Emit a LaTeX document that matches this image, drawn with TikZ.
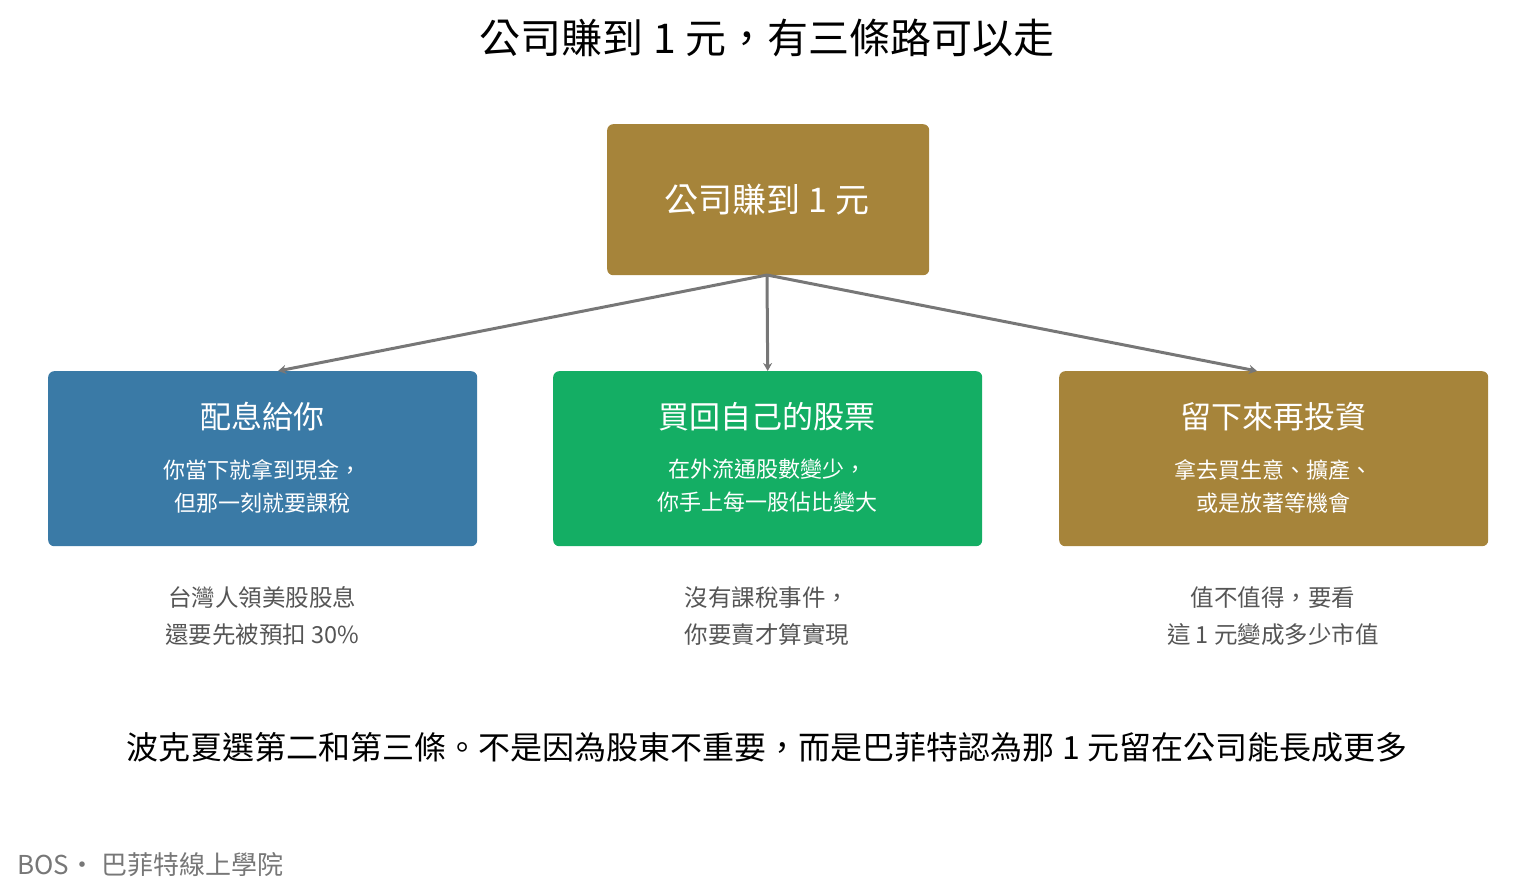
\documentclass[tikz,border=0pt]{standalone}
\usepackage{fontspec}
\setmainfont{Noto Sans CJK TC}
\usetikzlibrary{arrows.meta}
\definecolor{gold}{HTML}{A6843A}
\definecolor{blu}{HTML}{3A7AA6}
\definecolor{grn}{HTML}{14AE64}
\definecolor{gry}{HTML}{777777}
\definecolor{txt}{HTML}{555555}
\begin{document}
\begin{tikzpicture}[x=1pt,y=-1pt,
 box/.style={draw=none,rounded corners=6pt,minimum width=429pt,minimum height=175pt,anchor=north west,inner sep=0},
 arr/.style={draw=gry,line width=3pt,-{Stealth[length=8pt,width=9pt]}},
 btitle/.style={text=white,font=\fontsize{31}{34}\selectfont},
 btext/.style={text=white,align=center,font=\fontsize{22}{33}\selectfont},
 note/.style={text=txt,align=center,font=\fontsize{23.5}{37}\selectfont}]
\useasboundingbox (0,0) rectangle (1535,894);
\node (title) at (767,38) {\fontsize{41}{44}\selectfont 公司賺到 1 元，有三條路可以走};
\node[box,fill=gold,minimum width=322pt,minimum height=151pt] (top) at (607,124) {};
\node[text=white] (toplbl) at (767,200) {\fontsize{34}{38}\selectfont 公司賺到 1 元};
\node[box,fill=blu] (a) at (48,371) {};
\node[box,fill=grn] (b) at (553,371) {};
\node[box,fill=gold] (c) at (1059,371) {};
\coordinate (s) at (767,275);
\coordinate (ea) at (278,371);
\coordinate (ec) at (1257,371);
\draw[arr] (s) -- (ea);
\draw[arr] (s) -- (b.north);
\draw[arr] (s) -- (ec);
\node[btitle] (at) at (262,417) {配息給你};
\node[btext] (as) at (262,486) {你當下就拿到現金，\\但那一刻就要課稅};
\node[btitle] (bt) at (767,417) {買回自己的股票};
\node[btext] (bs) at (767,486) {在外流通股數變少，\\你手上每一股佔比變大};
\node[btitle] (ct) at (1273,417) {留下來再投資};
\node[btext] (cs) at (1273,486) {拿去買生意、擴產、\\或是放著等機會};
\node[note] (an) at (262,616) {台灣人領美股股息\\還要先被預扣 30\%};
\node[note] (bn) at (767,616) {沒有課稅事件，\\你要賣才算實現};
\node[note] (cn) at (1273,616) {值不值得，要看\\這 1 元變成多少市值};
\node (bottom) at (767,747) {\fontsize{32}{36}\selectfont 波克夏選第二和第三條。不是因為股東不重要，而是巴菲特認為那 1 元留在公司能長成更多};
\node[anchor=west,text=gry] (foot) at (14,865) {\fontsize{26}{30}\selectfont BOS・ 巴菲特線上學院};
\end{tikzpicture}
\end{document}
